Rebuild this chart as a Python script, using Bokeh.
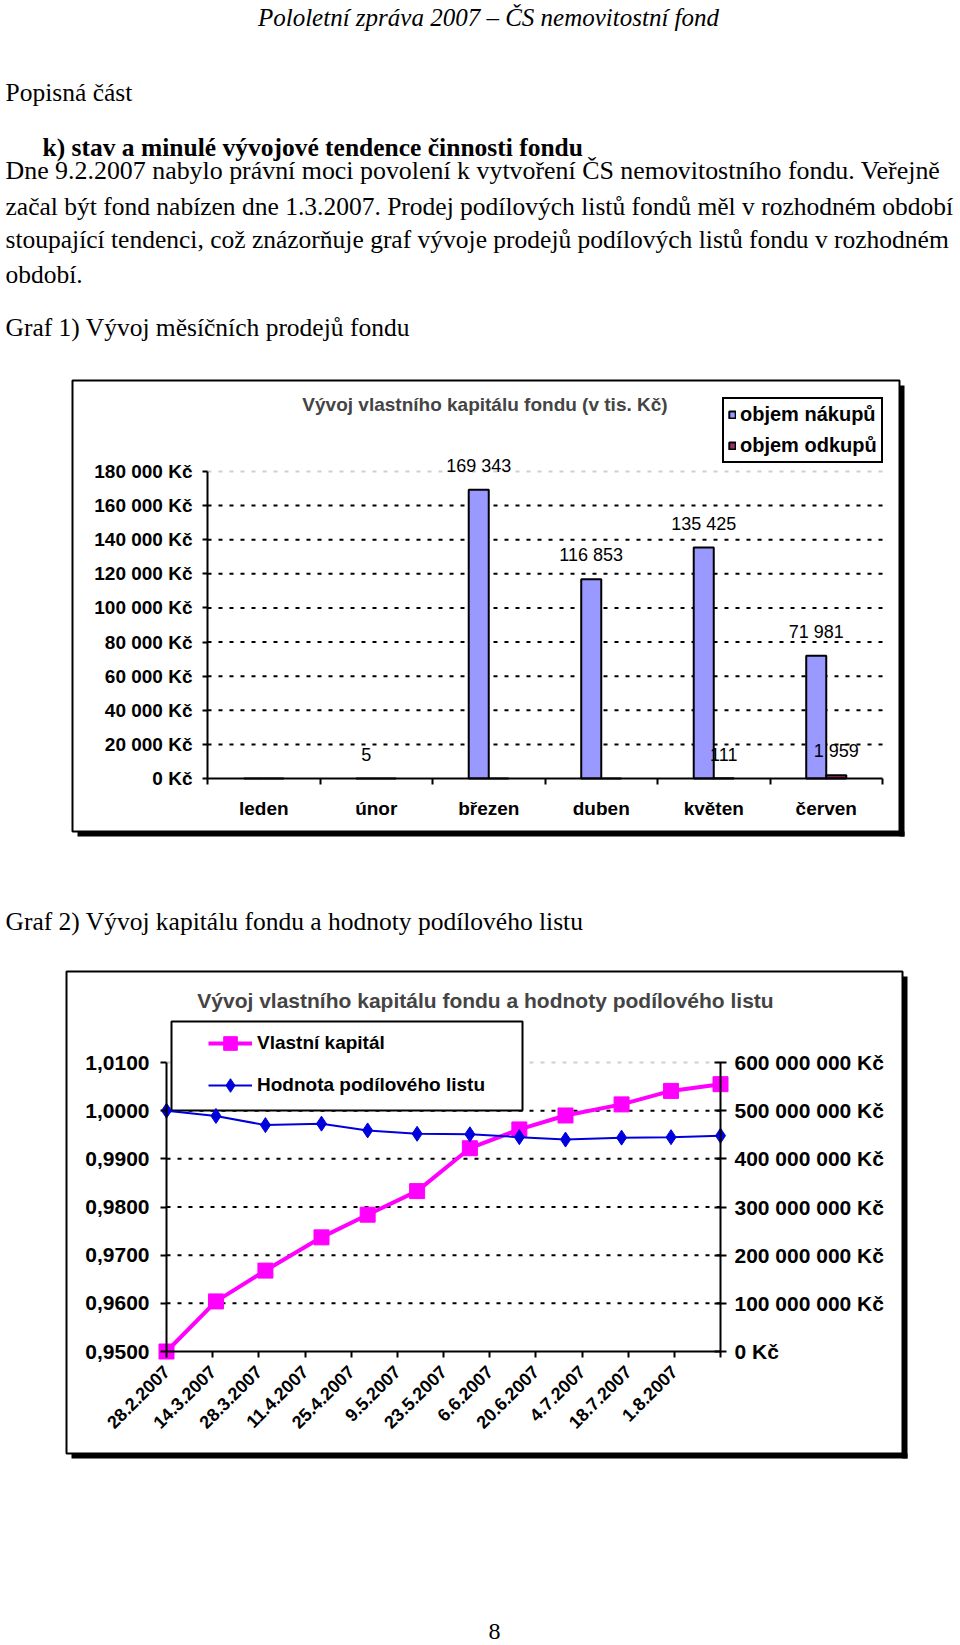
import math
import pandas as pd
from bokeh.plotting import figure
from bokeh.models import (Range1d, Label, LabelSet, ColumnDataSource, FixedTicker,
                          CustomJSTickFormatter, LinearAxis, BoxAnnotation, Legend,
                          LegendItem)
from bokeh.layouts import column
from bokeh.embed import file_html
from bokeh.resources import INLINE
from bokeh.transform import dodge
from bokeh.core.properties import value

SERIF = "Liberation Serif"
SANS = "Liberation Sans"

# ---------------- data: chart 1 ----------------
months = ["leden", "únor", "březen", "duben", "květen", "červen"]
nakupy = [0, 5, 169343, 116853, 135425, 71981]
odkupy = [0, 0, 0, 0, 111, 1959]
y1_ticks = [0, 20000, 40000, 60000, 80000, 100000, 120000, 140000, 160000, 180000]
y1_labels = ["0 Kč", "20 000 Kč", "40 000 Kč", "60 000 Kč", "80 000 Kč", "100 000 Kč",
             "120 000 Kč", "140 000 Kč", "160 000 Kč", "180 000 Kč"]

# ---------------- data: chart 2 ----------------
dates = ["2007-02-28", "2007-03-15", "2007-03-30", "2007-04-16", "2007-04-30", "2007-05-15",
         "2007-05-31", "2007-06-15", "2007-06-29", "2007-07-16", "2007-07-31", "2007-08-15"]
kapital = [0, 104e6, 168e6, 237e6, 284e6, 333e6, 422e6, 461e6, 490e6, 513e6, 541e6, 555e6]
hodnota = [1.0000, 0.9989, 0.9970, 0.9973, 0.9959, 0.9952, 0.9951, 0.9945, 0.9940,
           0.9944, 0.9945, 0.9948]
x2_labels = ["28.2.2007", "14.3.2007", "28.3.2007", "11.4.2007", "25.4.2007", "9.5.2007",
             "23.5.2007", "6.6.2007", "20.6.2007", "4.7.2007", "18.7.2007", "1.8.2007"]
y2_ticks = [0.95, 0.96, 0.97, 0.98, 0.99, 1.00, 1.01]
y2_labels = ["0,9500", "0,9600", "0,9700", "0,9800", "0,9900", "1,0000", "1,0100"]
cap_ticks = [0, 100e6, 200e6, 300e6, 400e6, 500e6, 600e6]
cap_labels = ["0 Kč", "100 000 000 Kč", "200 000 000 Kč", "300 000 000 Kč",
              "400 000 000 Kč", "500 000 000 Kč", "600 000 000 Kč"]


def lookup_fmt(tv, tl):
    return CustomJSTickFormatter(args=dict(tv=list(tv), tl=list(tl)), code="""
        for (let i = 0; i < tv.length; i++) {
            if (Math.abs(tv[i] - tick) < 1e-6 * Math.max(1, Math.abs(tick))) return tl[i];
        }
        return "";
    """)


def fit_range(v0, v1, p0, p1, total):
    # range whose value v0 falls on pixel p0 and v1 on pixel p1 of a frame `total` px long
    s = (v1 - v0) / (p1 - p0)
    start = v0 - p0 * s
    return Range1d(start, start + total * s)


def base_fig(w, h, xr, yr):
    f = figure(width=w, height=h, x_range=xr, y_range=yr, toolbar_location=None,
               output_backend="svg", min_border=0, outline_line_color=None)
    f.border_fill_color = "white"
    f.background_fill_color = "white"
    return f


def text_fig(h):
    f = figure(width=960, height=h, x_range=Range1d(0, 960), y_range=Range1d(h, 0),
               x_axis_type=None, y_axis_type=None, toolbar_location=None,
               output_backend="svg", min_border=0, outline_line_color=None)
    f.border_fill_color = "white"
    f.background_fill_color = "white"
    return f


def txt(f, x, y, s, size=25.5, style="normal", align="left", font=SERIF):
    f.add_layout(Label(x=x, y=y, text=s, text_font=font, text_font_size=f"{size}px",
                       text_font_style=style, text_align=align, text_baseline="middle",
                       text_color="black"))


SCR = dict(left_units="screen", right_units="screen", top_units="screen", bottom_units="screen")


def frame_box(p, left, right, top, bottom, sh=5):
    # outer chart border with its shadow (screen px from the bottom-left corner)
    p.add_layout(BoxAnnotation(left=right, right=right + sh, top=top - sh, bottom=bottom - sh,
                               fill_color="black", fill_alpha=1, line_color=None,
                               level="underlay", **SCR))
    p.add_layout(BoxAnnotation(left=left + sh, right=right + sh, top=bottom, bottom=bottom - sh,
                               fill_color="black", fill_alpha=1, line_color=None,
                               level="underlay", **SCR))
    p.add_layout(BoxAnnotation(left=left, right=right, top=top, bottom=bottom, fill_alpha=0,
                               line_color="black", line_alpha=1, line_width=2,
                               level="underlay", **SCR))


def style_axis(a, size, tick_out=5, tick_in=0, standoff=10):
    a.major_tick_out = tick_out
    a.major_tick_in = tick_in
    a.major_tick_line_width = 2
    a.major_tick_line_color = "black"
    a.minor_tick_line_color = None
    a.axis_line_width = 2
    a.axis_line_color = "black"
    a.major_label_standoff = standoff
    a.major_label_text_font = SANS
    a.major_label_text_font_style = "bold"
    a.major_label_text_font_size = size
    a.major_label_text_color = "black"


# ---------------- top text ----------------
fA = text_fig(372)
txt(fA, 488, 17, "Pololetní zpráva 2007 – ČS nemovitostní fond", size=25, style="italic",
    align="center")
txt(fA, 5, 92, "Popisná část")
txt(fA, 42, 147, "k) stav a minulé vývojové tendence činnosti fondu", style="bold")
txt(fA, 5, 170, "Dne 9.2.2007 nabylo právní moci povolení k vytvoření  ČS nemovitostního fondu. Veřejně",
    size=25.9)
txt(fA, 5, 206, "začal být fond nabízen dne 1.3.2007. Prodej podílových listů fondů měl v rozhodném období")
txt(fA, 5, 239, "stoupající tendenci, což znázorňuje graf vývoje prodejů podílových listů fondu v rozhodném")
txt(fA, 5, 274, "období.")
txt(fA, 5, 327, "Graf 1) Vývoj měsíčních prodejů fondu")

# ---------------- chart 1 ----------------
H1 = 478
p1 = base_fig(960, H1, fit_range(0, len(months), 207, 882, 960),
              fit_range(y1_ticks[0], y1_ticks[-1], 72, 379, H1))
p1.xgrid.visible = False
p1.ygrid.visible = False
frame_box(p1, 72, 899, 470, 19)

# dashed value grid lines, limited to the plot area
p1.segment(x0=0, x1=len(months), y0=y1_ticks[1:-1], y1=y1_ticks[1:-1], line_color="black",
           line_dash="4 7", line_width=2)
p1.segment(x0=0, x1=len(months), y0=y1_ticks[-1], y1=y1_ticks[-1], line_color="#cfcfcf",
           line_dash="4 7", line_width=2)

centers = [i + 0.5 for i in range(len(months))]
bw = 0.178
src1 = ColumnDataSource(dict(x=centers, nak=nakupy, odk=odkupy))
r_n = p1.vbar(x=dodge("x", -bw / 2, range=p1.x_range), top="nak", width=bw, source=src1,
              fill_color="#9999FF", line_color="black", line_width=2)
r_o = p1.vbar(x=dodge("x", bw / 2, range=p1.x_range), top="odk", width=bw, source=src1,
              fill_color="#993366", line_color="black", line_width=2)


def fmt_num(v):
    return f"{v:,}".replace(",", " ")


lab_n = ColumnDataSource(dict(x=[c for c, v in zip(centers, nakupy) if v > 0],
                              y=[v for v in nakupy if v > 0],
                              t=[fmt_num(v) for v in nakupy if v > 0]))
lab_o = ColumnDataSource(dict(x=[c for c, v in zip(centers, odkupy) if v > 0],
                              y=[v for v in odkupy if v > 0],
                              t=[fmt_num(v) for v in odkupy if v > 0]))
for s, off in ((lab_n, -bw / 2), (lab_o, bw / 2)):
    p1.add_layout(LabelSet(x=dodge("x", off, range=p1.x_range), y="y", text="t", source=s,
                           y_offset=24, text_align="center", text_baseline="middle",
                           text_font=value(SANS), text_font_size="18px", text_color="black"))

ax = p1.xaxis[0]
ax.ticker = FixedTicker(ticks=centers, minor_ticks=list(range(len(months) + 1)))
ax.formatter = lookup_fmt(centers, months)
ax.fixed_location = 0
ax.bounds = (0, len(months))
style_axis(ax, "19px", tick_out=0, standoff=13)
ax.minor_tick_out = 6
ax.minor_tick_in = 0
ax.minor_tick_line_color = "black"
ax.minor_tick_line_width = 2

ay = p1.yaxis[0]
ay.ticker = FixedTicker(ticks=y1_ticks)
ay.formatter = lookup_fmt(y1_ticks, y1_labels)
ay.fixed_location = 0
ay.bounds = (y1_ticks[0], y1_ticks[-1])
style_axis(ay, "19px", tick_out=5, standoff=10)

p1.add_layout(Label(x=484.5, y=446, x_units="screen", y_units="screen",
                    text="Vývoj vlastního kapitálu fondu (v tis. Kč)", text_font=SANS,
                    text_font_style="bold", text_font_size="19px", text_align="center",
                    text_baseline="middle"))

leg1 = Legend(items=[LegendItem(label="objem nákupů", renderers=[r_n]),
                     LegendItem(label="objem odkupů", renderers=[r_o])],
              location=(722, 387), glyph_width=8, glyph_height=9, label_height=20,
              label_standoff=4, padding=4, spacing=8, margin=0,
              border_line_color="black", border_line_width=2, border_line_alpha=1,
              background_fill_color="white", background_fill_alpha=1,
              label_text_font=SANS, label_text_font_style="bold",
              label_text_font_size="20px", label_text_color="black")
p1.add_layout(leg1)

# ---------------- middle text ----------------
fC = text_fig(110)
txt(fC, 5, 921 - 850, "Graf 2) Vývoj kapitálu fondu a hodnoty podílového listu")

# ---------------- chart 2 ----------------
start = pd.Timestamp(dates[0])
days = [int((pd.Timestamp(d) - start).days) for d in dates]
x2_ticks = [int((pd.to_datetime(s, format="%d.%m.%Y") - start).days) for s in x2_labels]
x2_ticks_all = x2_ticks + [days[-1]]
x2_labels_all = x2_labels + [""]

H2 = 510
p2 = base_fig(960, H2, fit_range(days[0], days[-1], 166, 720, 960),
              fit_range(y2_ticks[0], y2_ticks[-1], 119, 408, H2))
p2.extra_y_ranges = {"cap": fit_range(cap_ticks[0], cap_ticks[-1], 119, 408, H2)}
p2.xgrid.visible = False
p2.ygrid.visible = False
frame_box(p2, 66, 902, 499, 17)

p2.segment(x0=days[0], x1=days[-1], y0=y2_ticks[1:-1], y1=y2_ticks[1:-1], line_color="black",
           line_dash="4 7", line_width=2)
p2.segment(x0=days[0], x1=days[-1], y0=y2_ticks[-1], y1=y2_ticks[-1], line_color="#cfcfcf",
           line_dash="4 7", line_width=2)
# white legend box, drawn after the grid and before the series
p2.renderers.append(BoxAnnotation(left=171, right=522, top=449, bottom=360,
                                  level="glyph", fill_color="white", fill_alpha=1,
                                  line_color="black", line_alpha=1, line_width=2, **SCR))

src2 = ColumnDataSource(dict(d=days, cap=kapital, nav=hodnota))
c_line = p2.line(x="d", y="cap", source=src2, y_range_name="cap", line_color="#FF00FF",
                 line_width=4)
c_pts = p2.scatter(x="d", y="cap", source=src2, y_range_name="cap", marker="square", size=15,
                   fill_color="#FF00FF", line_color="#FF00FF")
n_line = p2.line(x="d", y="nav", source=src2, line_color="#0000DD", line_width=2)
n_pts = p2.scatter(x="d", y="nav", source=src2, marker="diamond", size=15,
                   fill_color="#0000DD", line_color="#0000DD")

bx = p2.xaxis[0]
bx.ticker = FixedTicker(ticks=x2_ticks_all)
bx.formatter = lookup_fmt(x2_ticks_all, x2_labels_all)
bx.fixed_location = y2_ticks[0]
bx.bounds = (days[0], days[-1])
style_axis(bx, "18px", tick_out=6, standoff=11)
bx.major_label_orientation = math.pi / 4

ly = p2.yaxis[0]
ly.ticker = FixedTicker(ticks=y2_ticks)
ly.formatter = lookup_fmt(y2_ticks, y2_labels)
ly.fixed_location = days[0]
ly.bounds = (y2_ticks[0], y2_ticks[-1])
style_axis(ly, "21px", tick_out=6, standoff=11)

ry = LinearAxis(y_range_name="cap", ticker=FixedTicker(ticks=cap_ticks),
                formatter=lookup_fmt(cap_ticks, cap_labels), fixed_location=days[-1],
                bounds=(cap_ticks[0], cap_ticks[-1]))
style_axis(ry, "21px", tick_out=6, tick_in=6, standoff=8)
p2.add_layout(ry, "right")

p2.add_layout(Label(x=485, y=470, x_units="screen", y_units="screen",
                    text="Vývoj vlastního kapitálu fondu a hodnoty podílového listu",
                    text_font=SANS, text_font_style="bold", text_font_size="21px",
                    text_align="center", text_baseline="middle"))

leg2 = Legend(items=[LegendItem(label="Vlastní kapitál", renderers=[c_line, c_pts]),
                     LegendItem(label="Hodnota podílového listu", renderers=[n_line, n_pts])],
              location=(208, 368), glyph_width=44, glyph_height=34, label_height=34,
              label_standoff=5, padding=0, spacing=8, margin=0,
              border_line_color=None, background_fill_alpha=0,
              label_text_font=SANS, label_text_font_style="bold",
              label_text_font_size="19px", label_text_color="black")
p2.add_layout(leg2)

# ---------------- bottom text ----------------
fE = text_fig(175)
txt(fE, 488, 1631 - 1470, "8", size=24)

layout = column(fA, p1, fC, p2, fE, spacing=0)
open("out.html", "w").write(file_html(layout, INLINE, title="Pololetní zpráva 2007"))
